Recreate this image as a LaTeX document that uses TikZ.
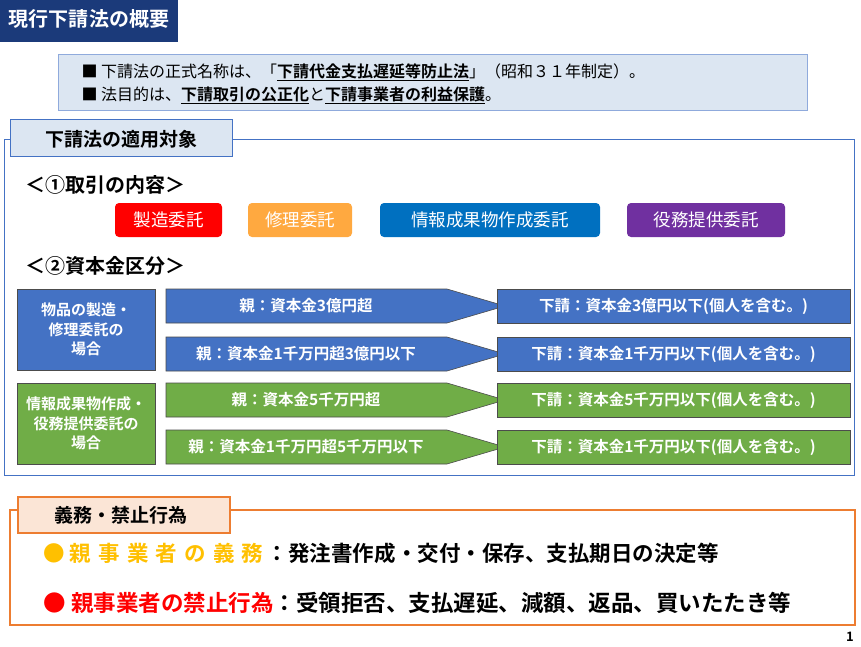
\documentclass[tikz,border=0pt]{standalone}
\usepackage{fontspec}
\setmainfont{Noto Sans CJK JP}
\newfontfamily\jb{Noto Sans CJK JP Bold}
\definecolor{navy}{HTML}{1B3A7A}
\definecolor{lblue}{HTML}{DCE6F2}
\definecolor{bblue}{HTML}{4472C4}
\definecolor{gr}{HTML}{70AD47}
\definecolor{org}{HTML}{ED7D31}
\definecolor{lorg}{HTML}{FBE5D6}
\definecolor{yel}{HTML}{FFC000}
\definecolor{pil1}{HTML}{FF0000}
\definecolor{pil2}{HTML}{FFA940}
\definecolor{pil3}{HTML}{0070C0}
\definecolor{pil4}{HTML}{7030A0}
\tikzset{
 pill/.style={rounded corners=4pt,text=white,font=\fontsize{17.5}{17.5}\selectfont,inner sep=0pt},
 cell/.style={draw=black!70,line width=0.6pt,text=white,font=\jb\fontsize{15}{19.5}\selectfont,align=center,inner sep=0pt},
 arr/.style={draw=black!70,line width=0.6pt},
 lab/.style={text=white,font=\jb\fontsize{15.5}{15.5}\selectfont,inner sep=0pt}
}
\begin{document}
\begin{tikzpicture}[x=1pt,y=-1pt]
\useasboundingbox[fill=white] (0,0) rectangle (861,647);
% title
\fill[navy] (0,0) rectangle (178,42);
\node[text=white,font=\jb\fontsize{20}{20}\selectfont] (title) at (89,19) {現行下請法の概要};
% info
\draw[fill=lblue,draw=bblue!60] (58,54) rectangle (807,110);
\node[anchor=west,font=\fontsize{16}{16}\selectfont] (i1) at (78,72) {■ 下請法の正式名称は、「{\jb\underline{下請代金支払遅延等防止法}}」（昭和３１年制定）。};
\node[anchor=west,font=\fontsize{16}{16}\selectfont] (i2) at (78,95) {■ 法目的は、{\jb\underline{下請取引の公正化}}と{\jb\underline{下請事業者の利益保護}}。};
% blue frame
\draw[bblue,line width=1pt] (4,140) rectangle (854,475);
\draw[fill=lblue,draw=bblue,line width=1pt] (10,120) rectangle (232,157);
\node[font=\jb\fontsize{19}{19}\selectfont] (t1) at (121,139) {下請法の適用対象};
\node[anchor=west,font=\jb\fontsize{20}{20}\selectfont] (s1) at (22,185) {＜①取引の内容＞};
\fill[pil1,rounded corners=4pt] (115,203) rectangle (222,237);
\node[pill] (p1) at (168.5,220) {製造委託};
\fill[pil2,rounded corners=4pt] (248,203) rectangle (352,237);
\node[pill] (p2) at (300,220) {修理委託};
\fill[pil3,rounded corners=4pt] (380,203) rectangle (600,237);
\node[pill] (p3) at (490,220) {情報成果物作成委託};
\fill[pil4,rounded corners=4pt] (627,203) rectangle (785,237);
\node[pill] (p4) at (706,220) {役務提供委託};
\node[anchor=west,font=\jb\fontsize{20}{20}\selectfont] (s2) at (22,266) {＜②資本金区分＞};
% left cells
\draw[cell,fill=bblue] (17,289) rectangle (155,370);
\node[cell,draw=none] (c1) at (86,329.5) {物品の製造・\\修理委託の\\場合};
\draw[cell,fill=gr] (17,383) rectangle (155,464);
\node[cell,draw=none] (c2) at (86,423.5) {情報成果物作成・\\役務提供委託の\\場合};
% rows
\foreach \y/\c/\l/\r [count=\i] in {
 289/bblue/親：資本金3億円超/下請：資本金3億円以下(個人を含む。),
 337/bblue/親：資本金1千万円超3億円以下/下請：資本金1千万円以下(個人を含む。),
 383/gr/親：資本金5千万円超/下請：資本金5千万円以下(個人を含む。),
 430/gr/親：資本金1千万円超5千万円以下/下請：資本金1千万円以下(個人を含む。)}{
 \draw[arr,fill=\c] (166,\y) -- (447,\y) -- (505,\y+17) -- (447,\y+34) -- (166,\y+34) -- cycle;
 \node[lab] (l\i) at (306,\y+17) {\l};
 \draw[arr,fill=\c] (497,\y) rectangle (850,\y+34);
 \node[lab] (r\i) at (673.5,\y+17) {\r};
}
% orange frame
\draw[org,line width=1.2pt] (10,510) rectangle (855,625);
\draw[fill=lorg,draw=org,line width=1.2pt] (18,497) rectangle (230,533);
\node[font=\jb\fontsize{19}{19}\selectfont] (t2) at (121,515) {義務・禁止行為};
\node[anchor=west,font=\jb\fontsize{21.5}{21.5}\selectfont] (b1) at (40,553) {\textcolor{yel}{● 親\,\,事\,\,業\,\,者\,\,の\,\,義\,\,務}\,：発注書作成・交付・保存、支払期日の決定等};
\node[anchor=west,font=\jb\fontsize{22.5}{22.5}\selectfont] (b2) at (40,603) {\textcolor{red}{● 親事業者の禁止行為}：受領拒否、支払遅延、減額、返品、買いたたき等};
\node[font=\jb\fontsize{13}{13}\selectfont] (pg) at (850,637) {1};
\end{tikzpicture}
\end{document}
